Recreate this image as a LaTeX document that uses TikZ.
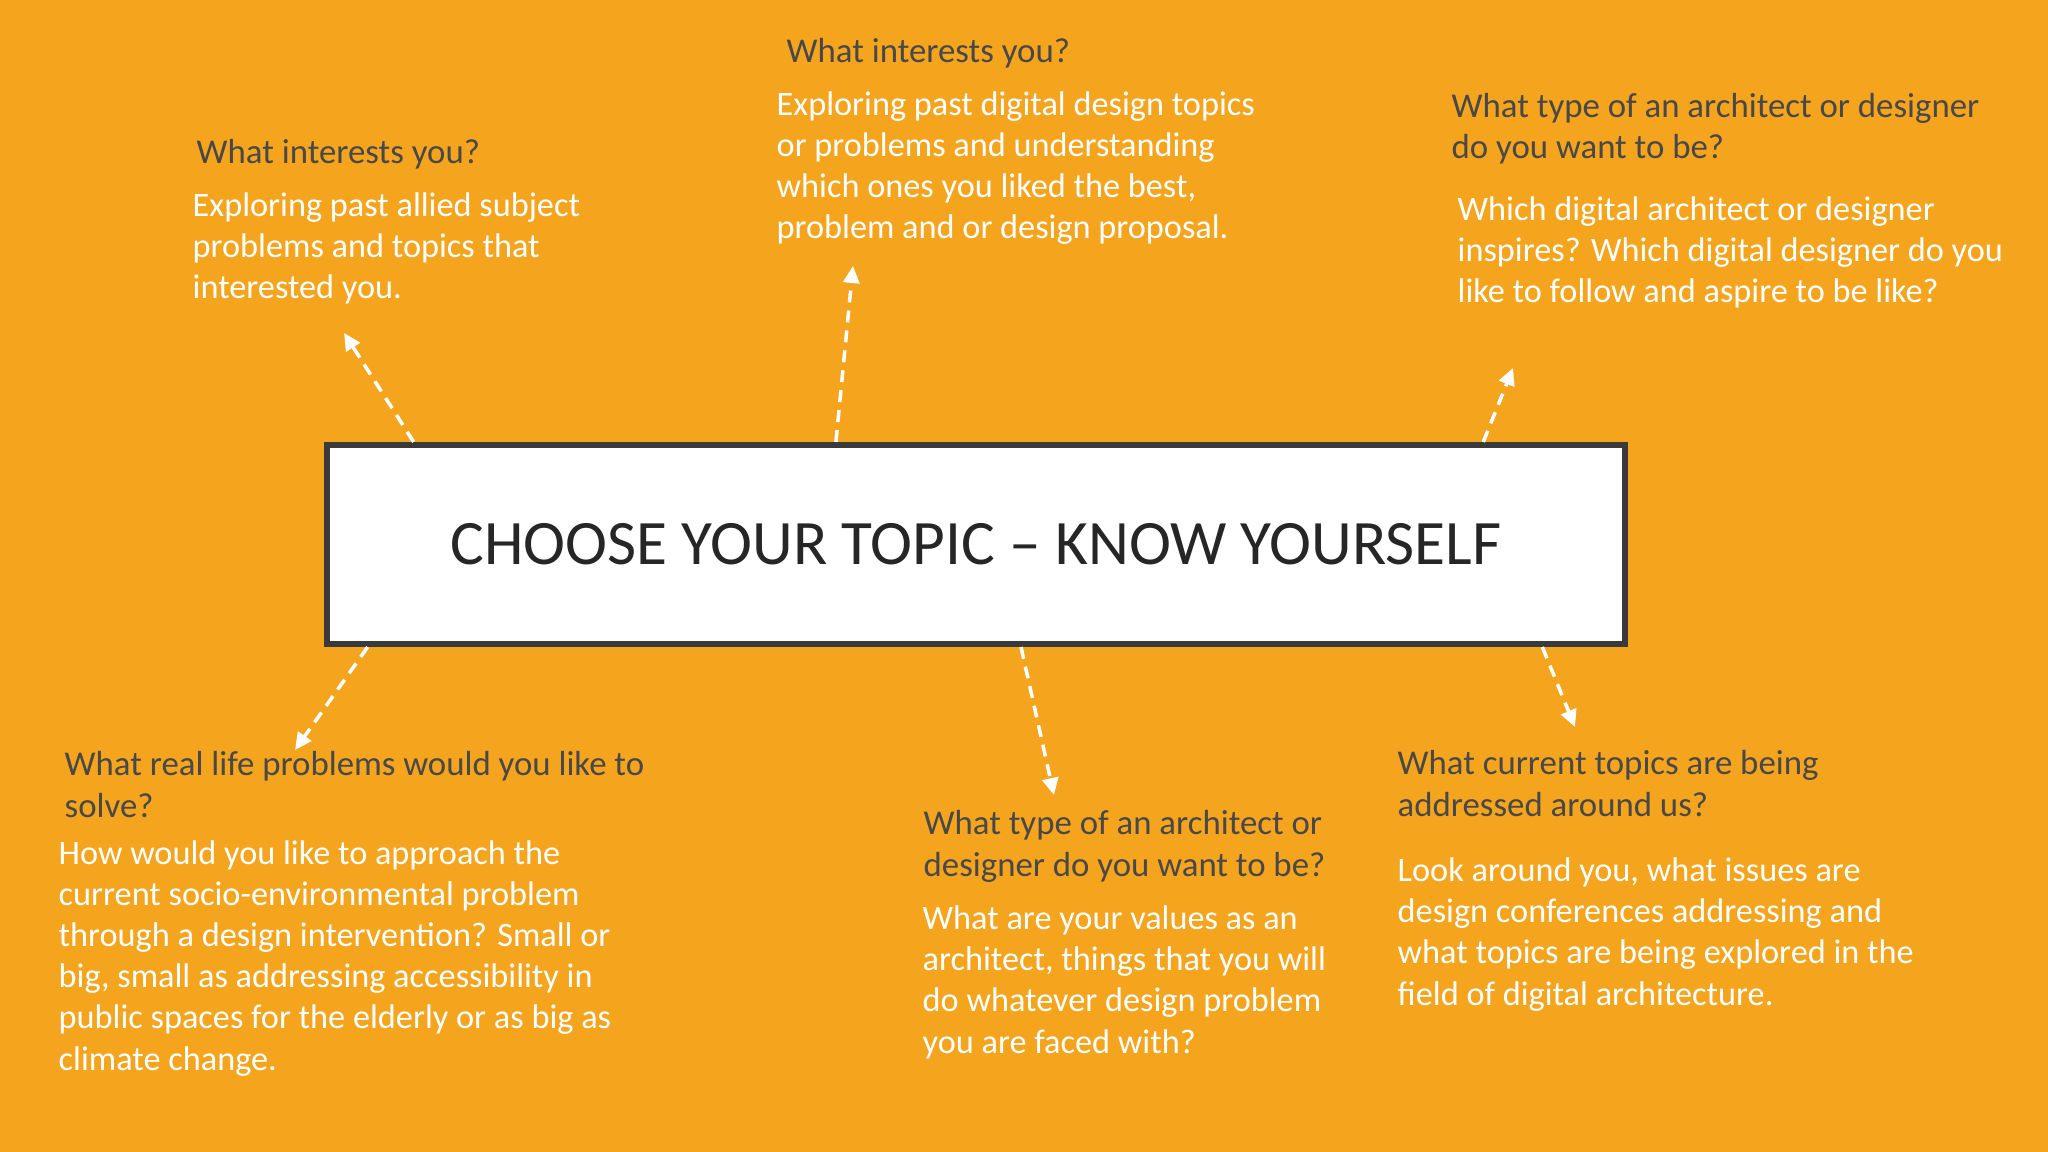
\documentclass[tikz,border=0pt]{standalone}
\usepackage{fontspec}
\setmainfont{Carlito}
\usetikzlibrary{arrows.meta}
\definecolor{slidebg}{RGB}{245,164,30}
\definecolor{headgray}{RGB}{72,72,72}
\definecolor{boxgray}{RGB}{58,58,58}

\begin{document}
\begin{tikzpicture}[
        x=0.01cm, y=-0.01cm,
        topic node/.style={draw=boxgray,line width=0.06cm,fill=white,minimum width=12.98cm,minimum height=1.99cm,inner sep=0pt,text=black!85,font=\fontsize{18}{22}\selectfont},
        head node/.style={anchor=base west,align=left,inner sep=0pt,text=headgray,font=\fontsize{9.9}{11.7}\selectfont},
        body node/.style={anchor=base west,align=left,inner sep=0pt,text=white,font=\fontsize{9.75}{11.7}\selectfont},
        cue/.style={white,line width=0.035cm,dash pattern=on 0.12cm off 0.08cm,-{Triangle[length=0.17cm,width=0.16cm]}},
    ]

    \fill[slidebg] (0,0) rectangle (2048,1152);
    \useasboundingbox (0,0) rectangle (2048,1152);

    \node[topic node] (topic) at (976,544.5) {CHOOSE YOUR TOPIC – KNOW YOURSELF};

    \node[head node] (h1) at (196,164) {What interests you?};
    \node[body node] (b1) at (192,299) {Exploring past allied subject\\problems and topics that\\interested you.};
    \node[head node] (h2) at (786,63) {What interests you?};
    \node[body node] (b2) at (776,239) {Exploring past digital design topics\\or problems and understanding\\which ones you liked the best,\\problem and or design proposal.};
    \node[head node] (h3) at (1451,159) {What type of an architect or designer\\do you want to be?};
    \node[body node] (b3) at (1457,303) {Which digital architect or designer\\inspires? Which digital designer do you\\like to follow and aspire to be like?};
    \node[head node] (h4) at (64,817) {What real life problems would you like to\\solve?};
    \node[body node] (b4) at (58,1070) {How would you like to approach the\\current socio-environmental problem\\through a design intervention? Small or\\big, small as addressing accessibility in\\public spaces for the elderly or as big as\\climate change.};
    \node[head node] (h5) at (923,876) {What type of an architect or\\designer do you want to be?};
    \node[body node] (b5) at (922,1053) {What are your values as an\\architect, things that you will\\do whatever design problem\\you are faced with?};
    \node[head node] (h6) at (1397,816) {What current topics are being\\addressed around us?};
    \node[body node] (b6) at (1397,1005) {Look around you, what issues are\\design conferences addressing and\\what topics are being explored in the\\field of digital architecture.};

    \coordinate (t1) at (344,333);
    \coordinate (t2) at (853,266);
    \coordinate (t3) at (1513,368);
    \coordinate (t4) at (1575,727);
    \coordinate (t5) at (295,750);
    \coordinate (t6) at (1054,795);

    \draw[cue] ([xshift=0.9cm]topic.north west) -- (t1);
    \draw[cue] ([xshift=5.12cm]topic.north west) -- (t2);
    \draw[cue] ([xshift=-1.45cm]topic.north east) -- (t3);
    \draw[cue] ([xshift=-0.86cm]topic.south east) -- (t4);
    \draw[cue] ([xshift=0.44cm]topic.south west) -- (t5);
    \draw[cue] ([xshift=6.97cm]topic.south west) -- (t6);
\end{tikzpicture}
\end{document}
